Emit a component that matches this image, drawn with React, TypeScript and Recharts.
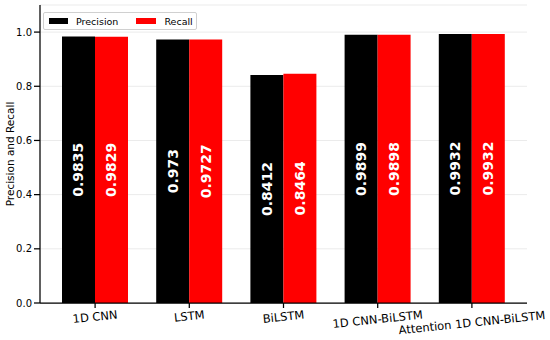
import React from "react";
import { BarChart, Bar, XAxis, YAxis, CartesianGrid, LabelList } from "recharts";

const categories = ["1D CNN", "LSTM", "BiLSTM", "1D CNN-BiLSTM", "Attention 1D CNN-BiLSTM"];
const precision = [0.9835, 0.973, 0.8412, 0.9899, 0.9932];
const recall = [0.9829, 0.9727, 0.8464, 0.9898, 0.9932];
const yTicks = [0, 0.2, 0.4, 0.6, 0.8, 1.0];

const data = categories.map((name, i) => ({ name, precision: precision[i], recall: recall[i] }));

const FONT = "'DejaVu Sans', sans-serif";

const XTick = (props: any) => {
  const { x, y, payload } = props;
  const label = String(payload.value);
  const th = (6 * Math.PI) / 180;
  const w = label.length * 6.6;
  const h = 11.5;
  const yc = y + (w * Math.sin(th) + h * Math.cos(th)) / 2 - 1;
  return (
    <text
      x={x}
      y={yc}
      textAnchor="middle"
      dominantBaseline="central"
      fontSize={11.5}
      fontFamily={FONT}
      fill="#000"
      transform={`rotate(-6, ${x}, ${yc})`}
    >
      {label}
    </text>
  );
};

const ValueLabel = (props: any) => {
  const { x, y, width, height, value } = props;
  const cx = x + width / 2;
  const cy = y + height / 2;
  return (
    <text
      x={cx}
      y={cy}
      textAnchor="middle"
      dominantBaseline="central"
      fontSize={14}
      fontWeight="bold"
      fontFamily={FONT}
      fill="#fff"
      transform={`rotate(-90, ${cx}, ${cy})`}
    >
      {String(value)}
    </text>
  );
};

const YLabel = (props: any) => {
  const { viewBox } = props;
  const cx = 10;
  const cy = viewBox.y + viewBox.height / 2;
  return (
    <text
      x={cx}
      y={cy}
      textAnchor="middle"
      dominantBaseline="central"
      fontSize={10.5}
      fontFamily={FONT}
      fill="#000"
      transform={`rotate(-90, ${cx}, ${cy})`}
    >
      Precision and Recall
    </text>
  );
};

const LegendBox = () => (
  <div
    style={{
      position: "absolute",
      left: 43,
      top: 12,
      display: "flex",
      alignItems: "center",
      border: "1px solid #d0d0d0",
      borderRadius: 2,
      background: "rgba(255,255,255,0.8)",
      width: 152,
      height: 16,
      fontFamily: FONT,
      fontSize: 9.5,
      color: "#000",
      boxSizing: "content-box",
    }}
  >
    <span style={{ display: "inline-block", width: 19, height: 6, background: "#000", marginLeft: 5 }} />
    <span style={{ marginLeft: 8 }}>Precision</span>
    <span style={{ display: "inline-block", width: 20, height: 6, background: "#ff0000", marginLeft: 18 }} />
    <span style={{ marginLeft: 8 }}>Recall</span>
  </div>
);

export default function App() {
  return (
    <div style={{ position: "absolute", left: 0, top: 0, width: 550, height: 340, background: "#fff" }}>
      <BarChart
        width={550}
        height={340}
        data={data}
        margin={{ top: 5, right: 23, left: 0, bottom: 0 }}
        barCategoryGap={14}
        barGap={0}
      >
        <CartesianGrid vertical={false} stroke="#ebebeb" strokeWidth={1} />
        <XAxis
          dataKey="name"
          height={37}
          padding={{ left: 8, right: 8 }}
          tick={<XTick />}
          tickSize={5}
          tickMargin={2}
          axisLine={{ stroke: "#000", strokeWidth: 1.25 }}
          tickLine={{ stroke: "#000", strokeWidth: 1.25 }}
          interval={0}
        />
        <YAxis
          width={40}
          domain={[0, 1.1]}
          ticks={yTicks}
          tickFormatter={(v: number) => v.toFixed(1)}
          tick={{ fontSize: 10, fontFamily: FONT, fill: "#000" }}
          tickSize={6}
          tickMargin={2}
          axisLine={{ stroke: "#000", strokeWidth: 1.25 }}
          tickLine={{ stroke: "#000", strokeWidth: 1.25 }}
          allowDataOverflow
          label={<YLabel />}
        />
        <Bar dataKey="precision" fill="#000000" isAnimationActive={false}>
          <LabelList dataKey="precision" content={<ValueLabel />} />
        </Bar>
        <Bar dataKey="recall" fill="#ff0000" isAnimationActive={false}>
          <LabelList dataKey="recall" content={<ValueLabel />} />
        </Bar>
      </BarChart>
      <LegendBox />
    </div>
  );
}
